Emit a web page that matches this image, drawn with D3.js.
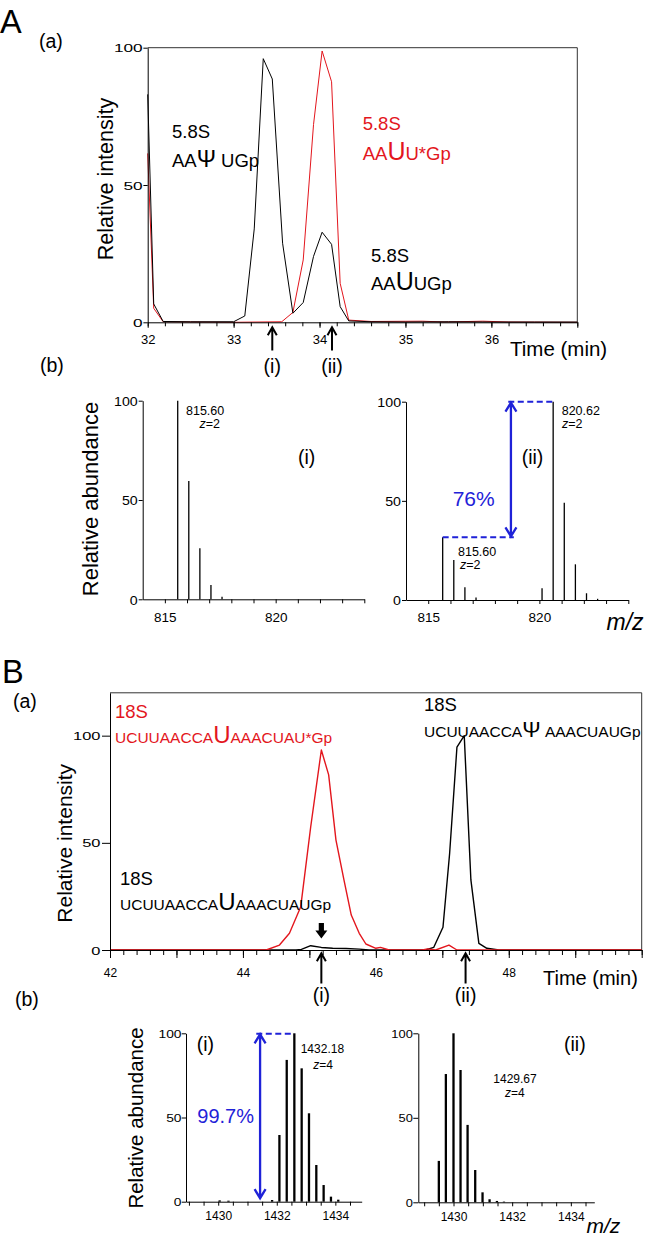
<!DOCTYPE html>
<html><head><meta charset="utf-8">
<script src="https://cdn.jsdelivr.net/npm/d3@7"></script>
<style>body{margin:0;background:#fff}svg{display:block}</style>
</head><body><svg id="c" width="647" height="1241"></svg>
<script>
// ---------- DATA ----------
// A(a) chromatogram: black = 5.8S AAΨUGp / AAUUGp, red = AAUU*Gp
const aTimeBlack = [32.0, 32.07, 32.18, 32.5, 33.0, 33.13, 33.24, 33.345, 33.45, 33.57, 33.69, 33.81, 33.93, 34.03, 34.14, 34.24, 34.34, 34.6, 35.0, 35.5, 36.0, 36.5, 37.0];
const aIntBlack  = [83, 6.7, 0.3, 0.2, 0.2, 2.3, 34, 96, 88.6, 28.8, 3.3, 7.2, 24, 32.8, 28.4, 5.7, 0.5, 0.2, 0.1, 0.2, 0.1, 0.1, 0.1];
const aTimeRed   = [32.0, 32.07, 32.18, 32.6, 33.0, 33.56, 33.69, 33.81, 33.93, 34.03, 34.14, 34.24, 34.34, 34.6, 35.2, 35.45, 35.9, 36.2, 37.0];
const aIntRed    = [61.5, 5.1, 0.2, 0.1, 0, 0.2, 3.6, 22.7, 72, 98.8, 87.6, 14.2, 0.8, 0.3, 0.4, 0.1, 0.4, 0.1, 0];
// A(b) mass spectra
const abMzI  = [815.58, 816.08, 816.58, 817.08, 817.58];
const abAbI  = [100, 59.6, 25.7, 7.2, 1.3];
const abMzII = [815.65, 816.15, 816.65, 817.15, 820.12, 820.62, 821.12, 821.62, 822.12, 822.62];
const abAbII = [31.6, 20.2, 6.4, 1.3, 5.9, 100, 49, 18, 3.4, 0.6];
// B(a) chromatogram
const bTimeBlack = [42, 44.8, 44.88, 45.02, 45.18, 45.35, 45.55, 45.75, 45.9, 46.75, 46.87, 47.01, 47.11, 47.22, 47.33, 47.43, 47.55, 47.67, 47.85, 50];
const bIntBlack  = [0, 0, 0.3, 2.0, 1.2, 0.8, 0.7, 0.4, 0, 0, 1.2, 10.6, 45, 94.6, 100, 32.7, 3.1, 0.8, 0, 0];
const bTimeRed   = [42, 44.35, 44.55, 44.7, 44.87, 45.02, 45.18, 45.29, 45.4, 45.52, 45.63, 45.75, 45.85, 46.0, 46.07, 46.2, 46.7, 46.78, 46.9, 47.1, 47.22, 50];
const bIntRed    = [0, 0, 2.3, 7.8, 20.2, 57.5, 93.3, 81.7, 51.3, 32.7, 16.3, 7.8, 2.8, 0.8, 1.2, 0, 0, 0.5, 0, 2.3, 0, 0];
// B(b) mass spectra
const bbMzI  = [1430.05, 1430.35, 1431.84, 1432.09, 1432.34, 1432.6, 1432.85, 1433.1, 1433.35, 1433.6, 1433.85, 1434.1];
const bbAbI  = [0.8, 0.6, 1.0, 39.6, 84.2, 100, 79.2, 52.5, 21.8, 9.9, 3.0, 1.2];
const bbMzII = [1429.5, 1429.74, 1430.0, 1430.24, 1430.48, 1430.74, 1430.99, 1431.23, 1431.48, 1431.72];
const bbAbII = [24.5, 75.9, 100, 78.3, 45.8, 19.1, 5.9, 1.8, 0.8, 0.4];
// tick labels
const aTimeLabels = [32, 33, 34, 35, 36];
const bTimeLabels = [42, 44, 46, 48];
const abMzLabels = [815, 820];
const bbMzLabels = [1430, 1432, 1434];
const yTickLabels = [0, 50, 100];

// ---------- DRAW ----------
const FONT = "'Liberation Sans', Arial, sans-serif";
const RED = "#e3161d", BLUE = "#1f22d8";
const svg = d3.select("#c").attr("font-family", FONT);

function txt(x, y, parts, o = {}) {
  const t = svg.append("text").attr("x", x).attr("y", y)
    .attr("font-size", o.size || 18).attr("fill", o.fill || "#000")
    .attr("text-anchor", o.anchor || "start");
  if (o.style) t.attr("font-style", o.style);
  if (o.transform) t.attr("transform", o.transform);
  if (typeof parts === "string") t.text(parts);
  else parts.forEach(p => {
    const s = t.append("tspan").text(p.t);
    if (p.size) s.attr("font-size", p.size);
    if (p.style) s.attr("font-style", p.style);
  });
  return t;
}

function bottomAxis(x, y0, o) {
  const g = svg.append("g").attr("transform", `translate(0,${y0})`);
  g.call(d3.axisBottom(x).tickValues(o.minor).tickSize(o.minorLen).tickSizeOuter(0).tickFormat(""));
  g.selectAll("line").attr("stroke", "#000");
  g.select(".domain").attr("stroke", "#000");
  if (o.major) {
    const g2 = svg.append("g").attr("transform", `translate(0,${y0})`);
    g2.call(d3.axisBottom(x).tickValues(o.major).tickSize(o.majorLen).tickSizeOuter(0).tickFormat(""));
    g2.select(".domain").remove();
    g2.selectAll("line").attr("stroke", "#000");
  }
  const g3 = svg.append("g").attr("transform", `translate(0,${y0})`);
  g3.call(d3.axisBottom(x).tickValues(o.labels).tickSize(0).tickSizeOuter(0).tickFormat(d3.format("d")));
  g3.select(".domain").remove();
  g3.selectAll("line").remove();
  g3.selectAll("text").attr("y", o.labelY).attr("dy", null)
    .attr("font-size", o.fontSize).attr("font-family", FONT).attr("fill", "#000");
}
function leftAxis(y, x0, o) {
  const g = svg.append("g").attr("transform", `translate(${x0},0)`);
  g.call(d3.axisLeft(y).tickValues(yTickLabels).tickSize(o.len).tickSizeOuter(0).tickFormat(d3.format("d")));
  g.selectAll("line").attr("stroke", "#000");
  g.select(".domain").attr("stroke", "#000");
  g.selectAll("text").attr("font-size", o.fontSize).attr("font-family", FONT).attr("fill", "#000")
    .attr("x", -o.gap / o.sx).attr("dy", "0.36em").attr("transform", `scale(${o.sx},1)`);
}
function trace(x, y, ts, vs, color, w) {
  const line = d3.line().x(d => x(d[0])).y(d => y(d[1]));
  svg.append("path").attr("d", line(d3.zip(ts, vs))).attr("fill", "none")
    .attr("stroke", color).attr("stroke-width", w).attr("stroke-linejoin", "round");
}
function sticks(x, y, ms, vs, w) {
  svg.append("g").selectAll("line").data(d3.zip(ms, vs)).join("line")
    .attr("x1", d => x(d[0])).attr("x2", d => x(d[0]))
    .attr("y1", y(0)).attr("y2", d => y(d[1]))
    .attr("stroke", "#000").attr("stroke-width", w);
}
function upArrow(x, tipY, tailY) {
  svg.append("path").attr("d", `M${x},${tailY}V${tipY + 1}M${x - 4.5},${tipY + 8}L${x},${tipY}L${x + 4.5},${tipY + 8}`)
    .attr("fill", "none").attr("stroke", "#000").attr("stroke-width", 2);
}
function frame(x, y, yTop) {
  svg.append("path").attr("d", `M${x.range()[0]},${yTop}H${x.range()[1]}V${y.range()[0]}`)
    .attr("fill", "none").attr("stroke", "#333").attr("stroke-width", 1);
}
function blueDbl(x, yTop, yBot) {
  svg.append("path").attr("d",
    `M${x},${yTop + 1}V${yBot - 1}M${x - 5.5},${yTop + 10}L${x},${yTop + 1}L${x + 5.5},${yTop + 10}M${x - 5.5},${yBot - 10}L${x},${yBot - 1}L${x + 5.5},${yBot - 10}`)
    .attr("fill", "none").attr("stroke", BLUE).attr("stroke-width", 2.3);
}
function blueDash(x1, x2, yy) {
  svg.append("line").attr("x1", x1).attr("x2", x2).attr("y1", yy).attr("y2", yy)
    .attr("stroke", BLUE).attr("stroke-width", 2).attr("stroke-dasharray", "6,3.5");
}

// ===== Panel A(a) =====
{
  const x = d3.scaleLinear().domain([32, 37]).range([147.7, 577.3]);
  const y = d3.scaleLinear().domain([0, 100]).range([322.3, 47.7]);
  frame(x, y, y(100));
  trace(x, y, aTimeRed, aIntRed, RED, 1);
  trace(x, y, aTimeBlack, aIntBlack, "#000", 1);
  bottomAxis(x, y(0), { minor: d3.range(32, 37.001, 0.2), minorLen: 4, major: d3.range(32, 37.001, 1), majorLen: 5.5,
    labels: aTimeLabels, labelY: 22, fontSize: 13 });
  leftAxis(y, x(32), { len: 4.3, fontSize: 11.5, sx: 1.5, gap: 5 });
  txt(0, 0, "Relative intensity", { size: 21.5, anchor: "middle", transform: "translate(112.5,179) rotate(-90)" });
  txt(510, 356, "Time (min)", { size: 20.5 });
  txt(172, 138.3, "5.8S", { size: 18.5 });
  txt(172, 166.7, [{ t: "AA" }, { t: "Ψ", size: 23 }, { t: " UGp" }], { size: 18.5 });
  txt(362.7, 130, "5.8S", { size: 18.5, fill: RED });
  txt(362.7, 160, [{ t: "AA" }, { t: "U", size: 25 }, { t: "U*Gp" }], { size: 18.5, fill: RED });
  txt(371, 261.7, "5.8S", { size: 18.5 });
  txt(371, 290, [{ t: "AA" }, { t: "U", size: 25 }, { t: "UGp" }], { size: 18.5 });
  upArrow(x(33.45), 327.3, 350.5);
  upArrow(x(34.145), 327.3, 350.5);
  txt(x(33.45), 372.5, "(i)", { size: 19.5, anchor: "middle" });
  txt(x(34.145), 372.5, "(ii)", { size: 19.5, anchor: "middle" });
}
txt(0, 33.3, "A", { size: 32.5 });
txt(39, 48, "(a)", { size: 19.5 });
txt(40, 372, "(b)", { size: 19.5 });

// ===== Panel A(b) left =====
{
  const x = d3.scaleLinear().domain([814, 824]).range([142.7, 364.3]);
  const y = d3.scaleLinear().domain([0, 100]).range([599.3, 400.7]);
  sticks(x, y, abMzI, abAbI, 1.3);
  bottomAxis(x, y(0), { minor: d3.range(815, 824.001, 1), minorLen: 4, labels: abMzLabels, labelY: 22.4, fontSize: 13.5 });
  leftAxis(y, x(814), { len: 4, fontSize: 13.5, sx: 1.05, gap: 5 });
  txt(0, 0, "Relative abundance", { size: 22, anchor: "middle", transform: "translate(97.7,499) rotate(-90)" });
  txt(186, 414.5, "815.60", { size: 12.5 });
  txt(199.5, 428, [{ t: "z", style: "italic" }, { t: "=2" }], { size: 12.5 });
  txt(298, 464.2, "(i)", { size: 19.5 });
}
// ===== Panel A(b) right =====
{
  const x = d3.scaleLinear().domain([814, 824]).range([406, 628.3]);
  const y = d3.scaleLinear().domain([0, 100]).range([600, 401.7]);
  sticks(x, y, abMzII, abAbII, 1.3);
  bottomAxis(x, y(0), { minor: d3.range(815, 824.001, 1), minorLen: 4, labels: abMzLabels, labelY: 21.7, fontSize: 13.5 });
  leftAxis(y, x(814), { len: 4, fontSize: 13.5, sx: 1.05, gap: 5 });
  txt(561.7, 414.5, "820.62", { size: 12.5 });
  txt(562, 428, [{ t: "z", style: "italic" }, { t: "=2" }], { size: 12.5 });
  txt(458, 555.5, "815.60", { size: 12.5 });
  txt(460, 569, [{ t: "z", style: "italic" }, { t: "=2" }], { size: 12.5 });
  txt(521.7, 464.2, "(ii)", { size: 19.5 });
  blueDash(x(818.6), x(820.62), y(100));
  blueDash(x(815.65), x(818.85), y(31.6));
  blueDbl(x(818.72), y(100), y(31.6));
  txt(452.7, 506, "76%", { size: 21, fill: BLUE });
  txt(606.5, 630, "m/z", { size: 23, style: "italic" });
}

// ===== Panel B(a) =====
{
  const x = d3.scaleLinear().domain([42, 50]).range([110, 641.7]);
  const y = d3.scaleLinear().domain([0, 120]).range([950, 692.8]);
  frame(x, y, y(120));
  trace(x, y, bTimeBlack, bIntBlack, "#000", 1.4);
  trace(x, y, bTimeRed, bIntRed, RED, 1.4);
  bottomAxis(x, y(0), { minor: d3.range(42, 50.001, 0.2), minorLen: 5, major: d3.range(42, 50.001, 1), majorLen: 8,
    labels: bTimeLabels, labelY: 26.7, fontSize: 12 });
  leftAxis(y, x(42), { len: 8, fontSize: 11.5, sx: 1.43, gap: 9.5 });
  txt(0, 0, "Relative intensity", { size: 21, anchor: "middle", transform: "translate(71.5,843.3) rotate(-90)" });
  txt(543, 985, "Time (min)", { size: 20 });
  txt(115, 718.3, "18S", { size: 18.5, fill: RED });
  txt(115, 743.3, [{ t: "UCUUAACCA" }, { t: "U", size: 24 }, { t: "AAACUAU*Gp" }], { size: 15.5, fill: RED });
  txt(120, 885, "18S", { size: 18.5 });
  txt(120, 910, [{ t: "UCUUAACCA" }, { t: "U", size: 24 }, { t: "AAACUAUGp" }], { size: 15.5 });
  txt(424, 710.7, "18S", { size: 18.5 });
  txt(424, 736.7, [{ t: "UCUUAACCA" }, { t: "Ψ", size: 22 }, { t: " AAACUAUGp" }], { size: 15.5 });
  // block arrow
  const bx = x(45.18);
  svg.append("path").attr("d", `M${bx - 2.6},923 H${bx + 2.6} V930.5 H${bx + 6} L${bx},938.5 L${bx - 6},930.5 H${bx - 2.6} Z`).attr("fill", "#000");
  upArrow(x(45.18), 953.3, 983.5);
  upArrow(x(47.35), 953.3, 983.5);
  txt(x(45.18), 1001.5, "(i)", { size: 19.5, anchor: "middle" });
  txt(x(47.35), 1001.5, "(ii)", { size: 19.5, anchor: "middle" });
}
txt(2, 683.3, "B", { size: 32.5 });
txt(13, 708, "(a)", { size: 19.5 });
txt(15, 1006, "(b)", { size: 19.5 });

// ===== Panel B(b) left =====
{
  const x = d3.scaleLinear().domain([1428.9, 1434.9]).range([186, 361.7]);
  const y = d3.scaleLinear().domain([0, 100]).range([1201.7, 1033.3]);
  sticks(x, y, bbMzI, bbAbI, 2.3);
  bottomAxis(x, y(0), { minor: d3.range(1429, 1434.901, 0.5), minorLen: 4, labels: bbMzLabels, labelY: 18.3, fontSize: 12 });
  leftAxis(y, x(1428.9), { len: 4.3, fontSize: 11.5, sx: 1.2, gap: 4.5 });
  txt(0, 0, "Relative abundance", { size: 20.5, anchor: "middle", transform: "translate(143,1118) rotate(-90)" });
  txt(300.7, 1053, "1432.18", { size: 12 });
  txt(313.3, 1068.5, [{ t: "z", style: "italic" }, { t: "=4" }], { size: 12 });
  txt(196.7, 1051, "(i)", { size: 19.5 });
  blueDash(x(1431.3), x(1432.6), y(100) + 0.5);
  blueDbl(x(1431.43), y(100), y(1.5));
  txt(197.3, 1123.3, "99.7%", { size: 20, fill: BLUE });
}
// ===== Panel B(b) right =====
{
  const x = d3.scaleLinear().domain([1428.8, 1434.8]).range([418.3, 594.3]);
  const y = d3.scaleLinear().domain([0, 100]).range([1202.3, 1033.3]);
  sticks(x, y, bbMzII, bbAbII, 2.3);
  bottomAxis(x, y(0), { minor: d3.range(1429, 1434.801, 0.5), minorLen: 4, labels: bbMzLabels, labelY: 18.3, fontSize: 12 });
  leftAxis(y, x(1428.8), { len: 5, fontSize: 11.5, sx: 1.12, gap: 5.5 });
  txt(493.3, 1083, "1429.67", { size: 12 });
  txt(505, 1097, [{ t: "z", style: "italic" }, { t: "=4" }], { size: 12 });
  txt(564, 1051, "(ii)", { size: 19.5 });
  txt(586.5, 1233.3, "m/z", { size: 21, style: "italic" });
}
</script></body></html>
